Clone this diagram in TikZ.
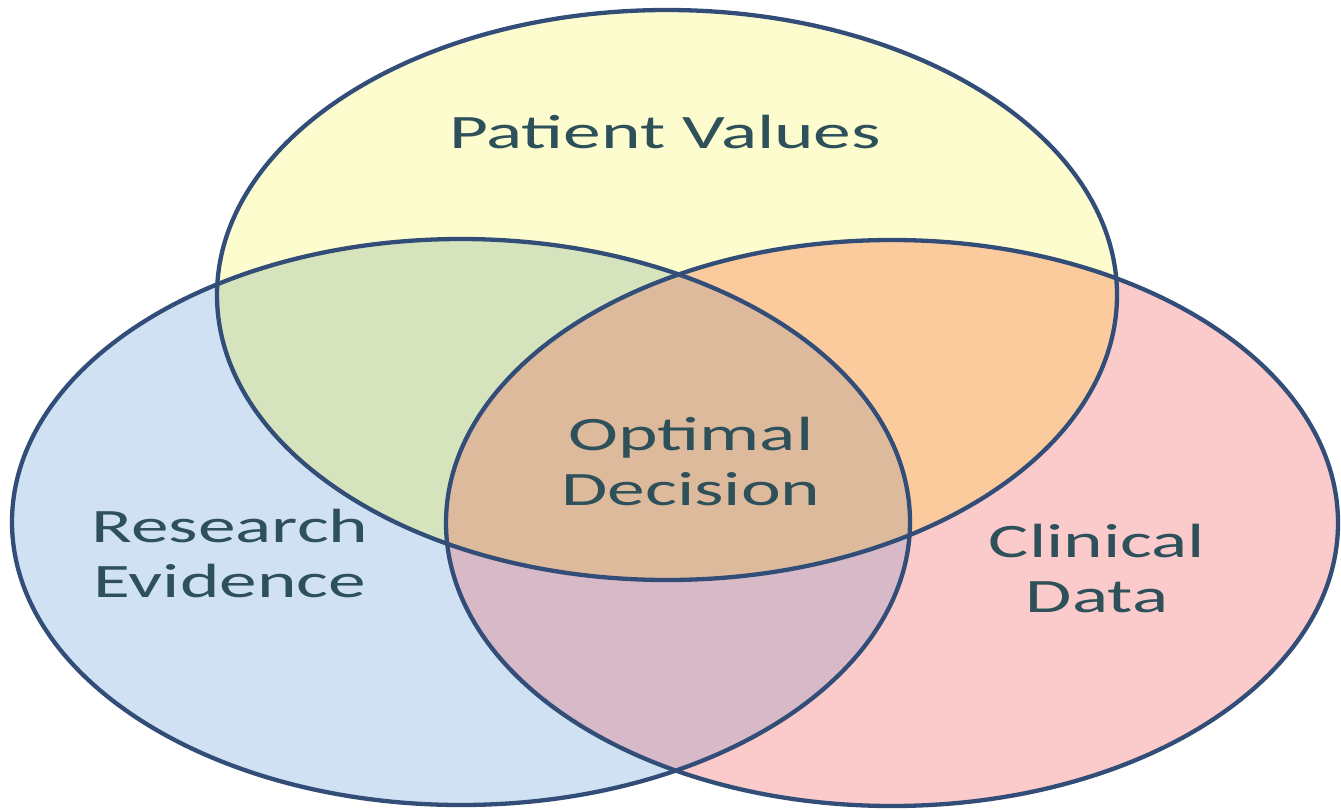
\documentclass[tikz,border=0pt]{standalone}
\usepackage{fontspec}
\setmainfont{Carlito}
\definecolor{cyel}{RGB}{252,252,206}
\definecolor{cblu}{RGB}{207,225,242}
\definecolor{cpnk}{RGB}{251,203,203}
\definecolor{cgrn}{RGB}{214,228,190}
\definecolor{corg}{RGB}{251,203,158}
\definecolor{cctr}{RGB}{222,186,156}
\definecolor{cpur}{RGB}{216,185,200}
\definecolor{cedge}{RGB}{50,78,120}
\definecolor{ctxt}{RGB}{45,80,90}
\begin{document}
\begin{tikzpicture}[x=1pt,y=-1pt,
  lbl/.style={text=ctxt,font=\fontsize{48}{55}\selectfont,align=center,inner sep=0pt,xscale=1.57},
  edge/.style={draw=cedge,line width=4.3pt}]
\useasboundingbox (0,0) rectangle (1341,811);
\def\Top{(667,295) ellipse [x radius=450pt, y radius=285pt]}
\def\Lft{(461,522) ellipse [x radius=449pt, y radius=283pt]}
\def\Rgt{(892,523) ellipse [x radius=446pt, y radius=283pt]}
\fill[cblu] \Lft;
\fill[cpnk] \Rgt;
\fill[cyel] \Top;
\begin{scope}\clip \Lft; \fill[cpur] \Rgt; \fill[cgrn] \Top; \end{scope}
\begin{scope}\clip \Rgt; \fill[corg] \Top; \end{scope}
\begin{scope}\clip \Lft; \clip \Rgt; \fill[cctr] \Top; \end{scope}
\draw[edge] \Lft;
\draw[edge] \Rgt;
\draw[edge] \Top;
\node[lbl] (pv) at (665,132) {Patient Values};
\node[lbl] (od) at (691,462) {Optimal\\Decision};
\node[lbl] (re) at (230,553) {Research\\Evidence};
\node[lbl] (cd) at (1097,569) {Clinical\\Data};
\end{tikzpicture}
\end{document}
